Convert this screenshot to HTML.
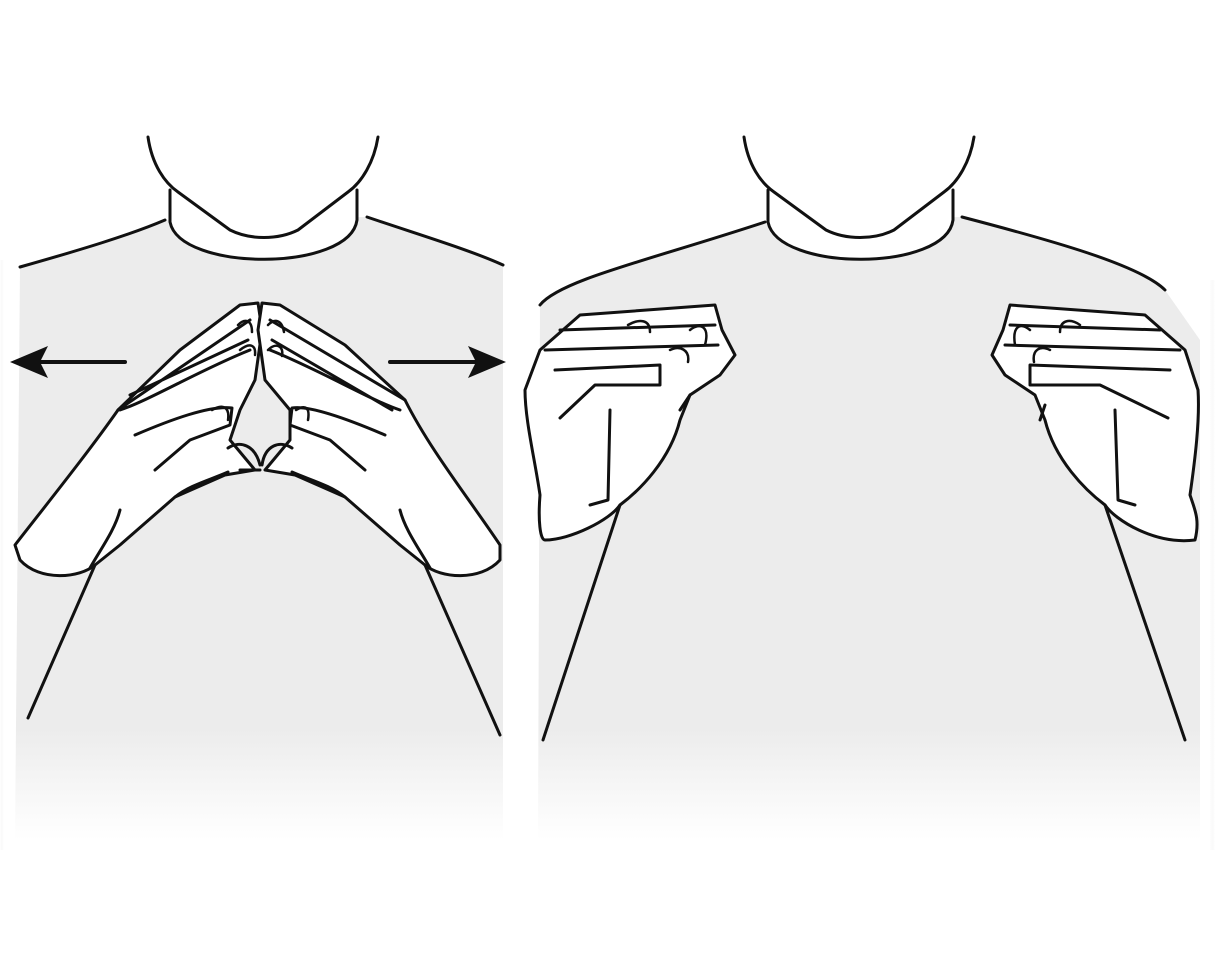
<!DOCTYPE html>
<html><head><meta charset="utf-8"><style>
html,body{margin:0;padding:0;background:#fff;}
svg{display:block;}
</style></head><body>
<svg width="1215" height="971" viewBox="0 0 1215 971">
<defs>
<linearGradient id="fadeB" x1="0" y1="0" x2="0" y2="1">
<stop offset="0" stop-color="#ececec"/><stop offset="0.82" stop-color="#ececec"/><stop offset="1" stop-color="#fff"/>
</linearGradient>
<linearGradient id="fadeL" x1="0" y1="0" x2="1" y2="0">
<stop offset="0" stop-color="#fff"/><stop offset="0.06" stop-color="#ececec" stop-opacity="0"/>
</linearGradient>
<linearGradient id="fadeR" x1="0" y1="0" x2="1" y2="0">
<stop offset="0.93" stop-color="#ececec" stop-opacity="0"/><stop offset="1" stop-color="#fff"/>
</linearGradient>
</defs>
<g fill="none" stroke="#111" stroke-width="3" stroke-linecap="round" stroke-linejoin="round">
<!-- LEFT PANEL -->
<g>
<path d="M20,267 C80,250 130,235 168,220 L365,217 C420,235 470,250 503,265 L503,840 L15,840 Z" fill="url(#fadeB)" stroke="none"/>
<rect x="0" y="260" width="60" height="590" fill="url(#fadeL)" stroke="none"/>
<path d="M170,190 L170,222 C180,272 350,272 357,220 L357,190 Z" fill="#fff" stroke="none"/>
<path d="M170,190 L170,222 C180,272 350,272 357,220 L357,190"/>
<path d="M148,137 C152,165 165,183 178,192 L230,230 C250,240 278,240 298,230 L348,192 C362,182 374,162 378,137"/>
<path d="M20,267 C80,250 130,235 165,220 M367,217 C420,235 470,250 503,265"/>
<path d="M125,362 L40,362" stroke-width="4"/>
<polygon points="10,362 48,346 40,362 48,378" fill="#111" stroke="none"/>
<path d="M390,362 L478,362" stroke-width="4"/>
<polygon points="506,362 468,346 476,362 468,378" fill="#111" stroke="none"/>
<path d="M15,545 C50,500 90,450 118,410 L180,350 L240,305 L258,303 L262,330 L255,380 L240,410 L230,440 L255,470 L225,475 L175,497 L120,545 L95,565 C80,578 40,582 20,560 Z" fill="#fff"/>
<path d="M500,545 C470,500 430,450 405,400 L345,345 L280,305 L262,303 L258,330 L265,380 L290,410 L290,440 L265,470 L295,475 L345,497 L400,545 L425,565 C440,578 480,582 500,560 Z" fill="#fff"/>
<path d="M118,410 L250,320 M130,395 L248,340 M120,410 C150,400 200,370 250,350 M135,435 C170,420 210,405 232,408 L230,425 L190,440 L155,470 M228,448 C240,440 255,445 260,465 M240,470 L260,470 M175,497 C190,485 210,480 228,472 M90,568 C100,550 115,530 120,510 M405,400 L270,320 M392,410 L272,340 M400,410 C370,400 320,370 270,350 M385,435 C350,420 310,405 292,408 L290,425 L330,440 L365,470 M292,448 C280,440 265,445 262,465 M345,497 C330,485 310,480 292,472 M430,568 C420,550 405,530 400,510 M95,565 L28,718 M425,565 L500,735"/>
<path d="M238,325 C245,318 252,320 252,332 M268,325 C275,318 282,320 284,332 M240,350 C250,342 256,345 255,355 M268,350 C276,342 284,346 282,356 M212,410 C222,404 230,406 228,420 M296,410 C306,404 310,408 308,420" stroke-width="2.5"/>
</g>
<!-- RIGHT PANEL -->
<g>
<path d="M540,305 C560,280 650,260 765,222 L960,217 C1050,240 1140,265 1165,290 L1200,340 L1200,840 L538,840 Z" fill="url(#fadeB)" stroke="none"/>
<rect x="1140" y="280" width="75" height="570" fill="url(#fadeR)" stroke="none"/>
<path d="M768,190 L768,222 C778,272 946,272 953,220 L953,190 Z" fill="#fff" stroke="none"/>
<path d="M768,190 L768,222 C778,272 946,272 953,220 L953,190"/>
<path d="M744,137 C748,165 761,183 774,192 L826,230 C846,240 874,240 894,230 L944,192 C958,182 970,162 974,137"/>
<path d="M540,305 C560,280 650,260 765,222 M962,217 C1050,240 1140,265 1165,290"/>
<path d="M540,495 C535,460 525,420 525,390 L540,350 L580,315 L715,305 L722,330 L735,355 L720,375 L690,395 L680,420 C670,460 640,490 620,505 C610,520 570,540 545,540 C540,540 538,520 540,495 Z" fill="#fff"/>
<path d="M1190,495 C1195,460 1200,420 1198,390 L1185,350 L1145,315 L1010,305 L1003,330 L992,355 L1005,375 L1035,395 L1045,420 C1055,460 1085,490 1105,505 C1115,520 1155,545 1195,540 C1200,520 1195,510 1190,495 Z" fill="#fff"/>
<path d="M560,330 L715,325 M545,350 L718,345 M555,370 L660,365 L660,385 L595,385 L560,418 M610,410 L608,500 L590,505 M680,410 L690,395 M620,505 L543,740 M1160,330 L1010,325 M1180,350 L1005,345 M1170,370 L1030,365 L1030,385 L1100,385 L1168,418 M1115,410 L1118,500 L1135,505 M1105,505 L1185,740 M1045,405 L1040,420"/>
<path d="M628,325 C640,318 650,320 650,332 M690,330 C700,322 710,326 705,345 M670,350 C680,345 690,350 688,362 M1030,330 C1020,322 1012,326 1015,345 M1050,350 C1040,345 1032,350 1034,362 M1080,325 C1070,318 1060,320 1060,332" stroke-width="2.5"/>
</g>
</g>
</svg>
</body></html>
